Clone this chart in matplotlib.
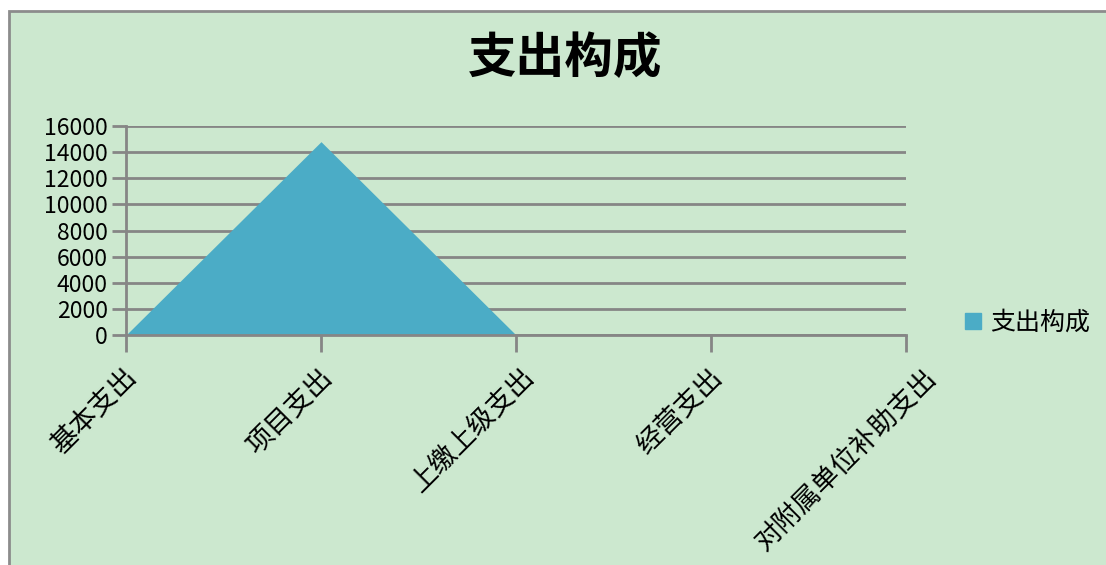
import matplotlib
matplotlib.use('Agg')
import matplotlib.pyplot as plt
import matplotlib.transforms as mtransforms
from matplotlib.patches import Rectangle
from matplotlib.lines import Line2D

plt.rcParams['font.family'] = ['Noto Sans CJK SC', 'DejaVu Sans']

categories = ['基本支出', '项目支出', '上缴上级支出', '经营支出', '对附属单位补助支出']
values = [0, 14800, 0, 0, 0]
series_name = '支出构成'
title = '支出构成'

bg = '#cce8cf'
area_color = '#4bacc6'
grid_color = '#868686'

fig = plt.figure(figsize=(11.06, 5.65), dpi=100)
fig.patch.set_facecolor('white')
# chart frame (behind the axes)
fig.patches.append(Rectangle((9/1106, -0.01), 1.02, 1 - 11/565 + 0.01,
                             transform=fig.transFigure, facecolor=bg,
                             edgecolor='#8c8c8c', linewidth=2, zorder=-10))

ax = fig.add_axes([126/1106, 1 - 335/565, (906-126)/1106, (335-126)/565])
ax.set_zorder(5)
ax.set_facecolor('none')
x = list(range(len(categories)))
ax.fill_between(x, values, 0, color=area_color, linewidth=0, zorder=2)

ax.set_xlim(0, len(categories) - 1)
ax.set_ylim(0, 16000)
ax.set_yticks(range(0, 16001, 2000))
ax.yaxis.grid(True, color=grid_color, linewidth=2)
ax.set_axisbelow(True)
for s in ['top', 'right']:
    ax.spines[s].set_visible(False)
ax.spines['left'].set_color(grid_color)
ax.spines['left'].set_linewidth(2)
ax.spines['bottom'].set_color(grid_color)
ax.spines['bottom'].set_linewidth(2)
ax.tick_params(axis='y', length=10, width=2, color=grid_color, labelsize=16.5, pad=3)
ax.tick_params(axis='x', length=12, width=2, color=grid_color, labelsize=19.5, pad=4)
ax.set_xticks(x)
ax.set_xticklabels(categories, rotation=45, ha='right', rotation_mode='anchor')
# longer labels sit a little further right, like the original
for lab in ax.get_xticklabels():
    n = len(lab.get_text())
    off = mtransforms.ScaledTranslation(((n - 4) * 4 - 3) / 100, -6 / 100,
                                        fig.dpi_scale_trans)
    lab.set_transform(lab.get_transform() + off)

fig.text(565/1106, 1 - 59/565, title, ha='center', va='center',
         fontsize=35, fontweight='bold')

handle = Line2D([], [], marker='s', color=area_color, linestyle='none', markersize=11)
fig.legend([handle], [series_name], loc='center left',
           bbox_to_anchor=(938/1106, 1 - 323/565), frameon=False,
           fontsize=18, handletextpad=0.2, handlelength=1)

fig.savefig('out.png', dpi=100, facecolor=fig.get_facecolor())
